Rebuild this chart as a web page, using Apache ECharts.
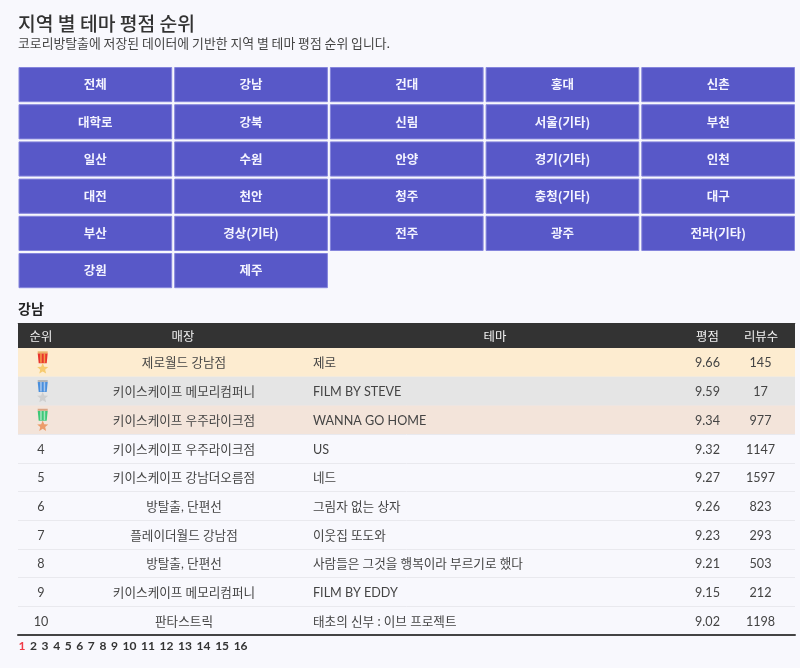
<!DOCTYPE html>
<html>
<head>
<meta charset="utf-8">
<script src="https://cdn.jsdelivr.net/npm/echarts@6/dist/echarts.min.js"></script>
<style>
html, body { margin: 0; padding: 0; background: #f8f8fd; }
#main { width: 800px; height: 668px; }
</style>
</head>
<body>
<div id="main"></div>
<script>
var regions = ['전체', '강남', '건대', '홍대', '신촌', '대학로', '강북', '신림', '서울(기타)', '부천',
    '일산', '수원', '안양', '경기(기타)', '인천', '대전', '천안', '청주', '충청(기타)', '대구',
    '부산', '경상(기타)', '전주', '광주', '전라(기타)', '강원', '제주'];
var headers = ['순위', '매장', '테마', '평점', '리뷰수'];
var ranks = ['1', '2', '3', '4', '5', '6', '7', '8', '9', '10'];
var stores = ['제로월드 강남점', '키이스케이프 메모리컴퍼니', '키이스케이프 우주라이크점', '키이스케이프 우주라이크점',
    '키이스케이프 강남더오름점', '방탈출, 단편선', '플레이더월드 강남점', '방탈출, 단편선', '키이스케이프 메모리컴퍼니', '판타스트릭'];
var themes = ['제로', 'FILM BY STEVE', 'WANNA GO HOME', 'US', '네드', '그림자 없는 상자', '이웃집 또도와',
    '사람들은 그것을 행복이라 부르기로 했다', 'FILM BY EDDY', '태초의 신부 : 이브 프로젝트'];
var ratings = ['9.66', '9.59', '9.34', '9.32', '9.27', '9.26', '9.23', '9.21', '9.15', '9.02'];
var reviews = ['145', '17', '977', '1147', '1597', '823', '293', '503', '212', '1198'];
var pages = ['1', '2', '3', '4', '5', '6', '7', '8', '9', '10', '11', '12', '13', '14', '15', '16'];

var FONT = 'Lato, "Noto Sans CJK KR", sans-serif';
var KR = '"Noto Sans CJK KR", sans-serif';
var TABLE_W = 777;
// 열 중심 위치 (표 왼쪽 기준 px)
var colHeader = [23, 165, 477, 689.5, 743];
var colBody = [23, 166, 295, 689.5, 742.5];
var rowColors = ['#fdecd0', '#e5e5e5', '#f3e4da'];
var medals = [
    { top: '#e9b26a', ribbon: '#e8352e', side: '#f59a4a', star: '#f7cb6f' },
    { top: '#b5b5b5', ribbon: '#4a8fdc', side: '#a9c8ee', star: '#cfcfcf' },
    { top: '#d9a484', ribbon: '#3ec878', side: '#a5e5c0', star: '#ec9c6a' }
];

var myChart = echarts.init(document.getElementById('main'));

function hiddenCat(data, extra) {
    return Object.assign({ type: 'category', data: data, show: false }, extra || {});
}

function starPoints(cx, cy, r) {
    var pts = [];
    for (var i = 0; i < 10; i++) {
        var a = -Math.PI / 2 + i * Math.PI / 5;
        var rr = i % 2 ? r * 0.45 : r;
        pts.push([cx + rr * Math.cos(a), cy + rr * Math.sin(a)]);
    }
    return pts;
}

function renderButton(params, api) {
    var c = api.coord([api.value(0), api.value(1)]);
    var s = api.size([1, 1]);
    var w = s[0] - 3, h = s[1] - 3;
    return {
        type: 'group',
        children: [{
            type: 'rect',
            shape: { x: c[0] - w / 2, y: c[1] - h / 2, width: w, height: h },
            style: { fill: '#5858c8', stroke: '#8585dc', lineWidth: 1 }
        }, {
            type: 'text',
            style: {
                x: c[0], y: c[1], text: regions[params.dataIndex], fill: '#f4f4ff',
                font: 'bold 12.5px ' + KR, align: 'center', verticalAlign: 'middle'
            }
        }]
    };
}

function renderCell(params, api) {
    var c = api.coord([api.value(0), api.value(1)]);
    return {
        type: 'text',
        style: {
            x: c[0], y: c[1] + 1, text: api.value(2), fill: api.value(4),
            font: api.value(5) + ' ' + FONT, align: api.value(3), verticalAlign: 'middle'
        }
    };
}

function renderMedal(params, api) {
    var m = medals[params.dataIndex];
    var c = api.coord([api.value(0), api.value(1)]);
    var x = c[0], y = c[1];
    return {
        type: 'group',
        children: [
            { type: 'polygon', shape: { points: [[x - 5, y - 9], [x + 5, y - 9], [x + 4, y + 1], [x - 4, y + 1]] }, style: { fill: m.ribbon } },
            { type: 'rect', shape: { x: x - 2.5, y: y - 9, width: 1.5, height: 9.5 }, style: { fill: m.side } },
            { type: 'rect', shape: { x: x + 1, y: y - 9, width: 1.5, height: 9.5 }, style: { fill: m.side } },
            { type: 'rect', shape: { x: x - 5, y: y - 11, width: 10, height: 2 }, style: { fill: m.top } },
            { type: 'polygon', shape: { points: starPoints(x, y + 6.5, 5.8) }, style: { fill: m.star } }
        ]
    };
}

var headerCells = headers.map(function (h, i) {
    return [colHeader[i], 0, h, 'center', '#f2f2f2', 'normal 12.4px'];
});
var bodyCells = [];
ranks.forEach(function (r, i) {
    if (i >= medals.length) bodyCells.push([colBody[0], i, r, 'center', '#444444', 'normal 12.6px']);
    bodyCells.push([colBody[1], i, stores[i], 'center', '#444444', 'normal 12.6px']);
    bodyCells.push([colBody[2], i, themes[i], 'left', '#444444', 'normal 12.6px']);
    bodyCells.push([colBody[3], i, ratings[i], 'center', '#444444', 'normal 12.6px']);
    bodyCells.push([colBody[4], i, reviews[i], 'center', '#444444', 'normal 12.6px']);
});

var pageText = pages.map(function (p, i) {
    return (i === 0 ? '{on|' : '{off|') + p + '}';
}).join('{sep| }');

var option = {
    backgroundColor: '#f8f8fd',
    animation: false,
    title: [
        {
            text: '지역 별 테마 평점 순위', left: 18, top: 14.5, padding: 0,
            textStyle: { fontFamily: KR, fontSize: 19.3, fontWeight: 500, color: '#333333' }
        },
        {
            text: '코로리방탈출에 저장된 데이터에 기반한 지역 별 테마 평점 순위 입니다.', left: 18, top: 37, padding: 0,
            textStyle: { fontFamily: KR, fontSize: 12.85, fontWeight: 'normal', color: '#444444' }
        },
        {
            text: '강남', left: 18, top: 302, padding: 0,
            textStyle: { fontFamily: KR, fontSize: 14, fontWeight: 'bold', color: '#222222' }
        },
        {
            text: pageText, left: 18.5, top: 640, padding: 0,
            textStyle: {
                rich: {
                    on: { fontFamily: FONT, fontSize: 12, fontWeight: 'bold', color: '#f03a47' },
                    off: { fontFamily: FONT, fontSize: 12, fontWeight: 'bold', color: '#333333' },
                    sep: { fontFamily: FONT, fontSize: 12, width: 4.6 }
                }
            }
        }
    ],
    grid: [
        { left: 17.5, top: 66, width: 778.5, height: 223.2 },
        { left: 18, top: 323, width: TABLE_W, height: 25 },
        { left: 18, top: 348, width: TABLE_W, height: 287 }
    ],
    xAxis: [
        hiddenCat([0, 1, 2, 3, 4], { gridIndex: 0 }),
        {
            type: 'value', gridIndex: 1, min: 0, max: TABLE_W, position: 'top',
            axisLine: { show: true, onZero: false, lineStyle: { color: '#999999', width: 1 } },
            axisTick: { show: false }, axisLabel: { show: false }, splitLine: { show: false }
        },
        {
            type: 'value', gridIndex: 2, min: 0, max: TABLE_W, position: 'bottom',
            axisLine: { show: true, onZero: false, lineStyle: { color: '#444444', width: 2 } },
            axisTick: { show: false }, axisLabel: { show: false }, splitLine: { show: false }
        }
    ],
    yAxis: [
        hiddenCat([0, 1, 2, 3, 4, 5], { gridIndex: 0, inverse: true }),
        hiddenCat(['header'], { gridIndex: 1 }),
        {
            type: 'category', gridIndex: 2, data: ranks, inverse: true,
            axisLine: { show: false }, axisTick: { show: false }, axisLabel: { show: false },
            splitLine: { show: true, lineStyle: { color: '#e9e9ee', width: 1 } }
        }
    ],
    series: [
        {
            type: 'custom', xAxisIndex: 0, yAxisIndex: 0, renderItem: renderButton,
            data: regions.map(function (r, i) { return [i % 5, Math.floor(i / 5)]; })
        },
        {
            type: 'bar', xAxisIndex: 1, yAxisIndex: 1, barWidth: '100%', silent: true,
            data: [TABLE_W], itemStyle: { color: '#333333' }
        },
        {
            type: 'custom', xAxisIndex: 1, yAxisIndex: 1, renderItem: renderCell, z: 5,
            encode: { x: 0, y: 1 }, data: headerCells
        },
        {
            type: 'bar', xAxisIndex: 2, yAxisIndex: 2, barWidth: '100%', silent: true,
            data: rowColors.map(function (c) { return { value: TABLE_W, itemStyle: { color: c } }; })
        },
        {
            type: 'custom', xAxisIndex: 2, yAxisIndex: 2, renderItem: renderCell, z: 5,
            encode: { x: 0, y: 1 }, data: bodyCells
        },
        {
            type: 'custom', xAxisIndex: 2, yAxisIndex: 2, renderItem: renderMedal, z: 5,
            encode: { x: 0, y: 1 }, data: medals.map(function (m, i) { return [colBody[0] + 1.7, i]; })
        }
    ]
};
myChart.setOption(option);
</script>
</body>
</html>
